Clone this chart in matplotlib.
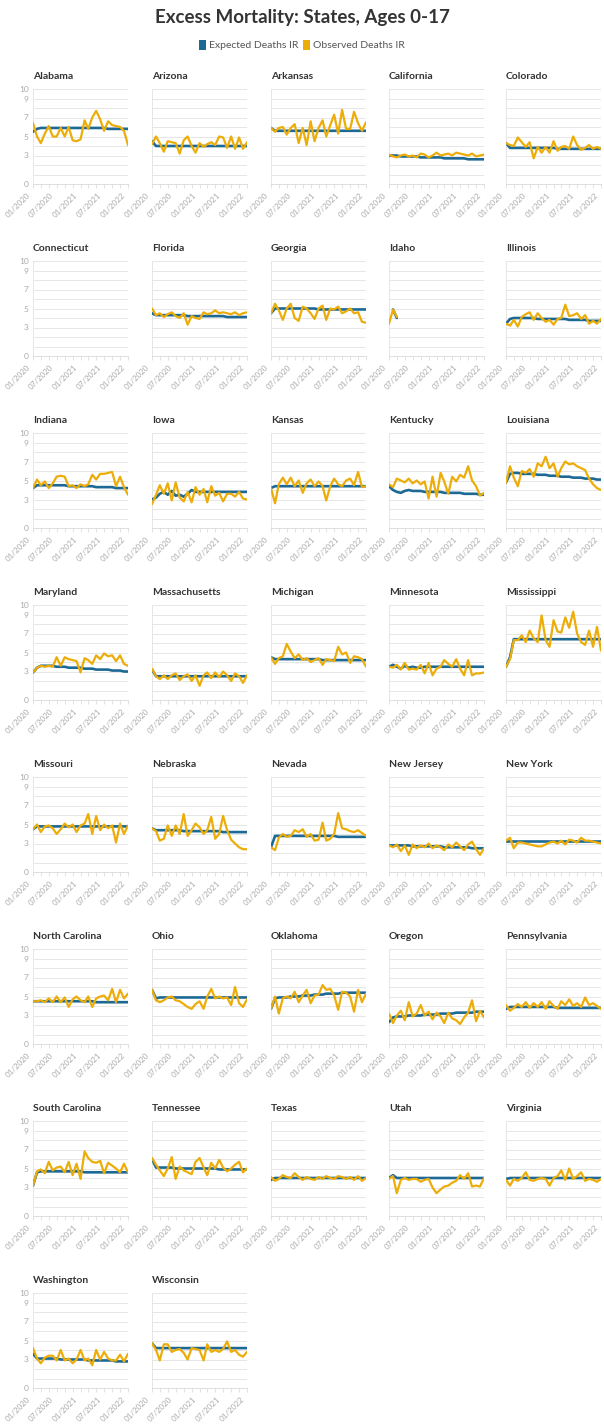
import matplotlib
matplotlib.use("Agg")
import matplotlib.pyplot as plt
import matplotlib.dates as mdates
import matplotlib.transforms as mtransforms
import numpy as np
from matplotlib.patches import Patch

plt.rcParams["font.family"] = ["Lato", "DejaVu Sans"]

BLUE = "#1D6996"
YELLOW = "#EDAD08"
GRID = "#e6e6e6"
TICK = "#aaaaaa"

# monthly points, 01/2020 .. 01/2022
months = np.arange("2020-01", "2022-02", dtype="datetime64[M]").astype("datetime64[D]")

NA = None

obs_alabama = [6.4, 5.0, 4.3, 5.3, 6.1, 5.0, 5.0, 5.9, 5.0, 6.0, 4.6, 4.5, 4.7, 6.7, 5.8,
               7.0, 7.7, 6.8, 5.6, 6.6, 6.2, 6.1, 6.0, 5.6, 4.1]
exp_alabama = [5.5, 5.8, 5.9, 5.9, 5.9, 5.9, 5.9, 5.9, 5.9, 5.9, 5.9, 5.9, 5.9, 5.9, 5.9,
               5.9, 5.9, 5.9, 5.9, 5.8, 5.8, 5.8, 5.8, 5.8, 5.8]
obs_arizona = [4.2, 5.0, 4.3, 3.4, 4.5, 4.4, 4.3, 3.2, 4.6, 5.0, 4.0, 3.3, 4.3, 3.9, 4.2,
               4.4, 4.1, 5.0, 4.9, 3.8, 5.0, 3.7, 4.9, 3.7, 4.4]
exp_arizona = [4.5, 4.0, 4.0, 4.0, 4.0, 4.0, 4.0, 4.0, 4.0, 4.0, 4.0, 4.0, 4.0, 4.0, 4.0,
               4.0, 4.0, 4.0, 4.0, 4.0, 4.0, 4.0, 4.0, 4.0, 4.0]
obs_arkansas = [5.9, 5.5, 5.9, 6.0, 5.2, 5.9, 6.3, 4.3, 5.9, 4.1, 6.6, 4.5, 5.9, 6.7, 5.0,
                6.2, 7.3, 5.3, 7.8, 5.8, 5.8, 7.6, 6.4, 5.6, 6.5]
exp_arkansas = [5.9, 5.6, 5.6, 5.6, 5.6, 5.6, 5.6, 5.6, 5.6, 5.6, 5.6, 5.6, 5.6, 5.6, 5.6,
                5.6, 5.6, 5.6, 5.6, 5.6, 5.6, 5.6, 5.6, 5.6, 5.6]
obs_california = [3.1, 2.9, 2.8, 3.0, 3.1, 2.9, 3.0, 2.8, 3.2, 3.1, 2.8, 3.0, 3.3, 3.0, 3.1,
                  3.2, 3.0, 3.3, 3.2, 3.1, 3.0, 3.2, 2.9, 3.0, 3.1]
exp_california = [3.0, 3.0, 3.0, 2.9, 2.9, 2.9, 2.9, 2.9, 2.8, 2.8, 2.8, 2.8, 2.8, 2.8, 2.7,
                  2.7, 2.7, 2.7, 2.7, 2.7, 2.6, 2.6, 2.6, 2.6, 2.6]
obs_colorado = [4.3, 4.1, 4.0, 4.9, 4.4, 3.9, 4.4, 2.7, 3.9, 3.3, 3.9, 3.3, 4.5, 3.5, 3.9,
                4.0, 3.7, 5.0, 4.1, 3.6, 3.8, 4.1, 3.7, 3.9, 3.7]
exp_colorado = [4.3, 3.8, 3.8, 3.8, 3.8, 3.8, 3.8, 3.8, 3.8, 3.8, 3.8, 3.8, 3.8, 3.7, 3.7,
                3.7, 3.7, 3.7, 3.7, 3.7, 3.7, 3.7, 3.7, 3.7, 3.7]
obs_connecticut = [NA] * 25
exp_connecticut = [NA] * 25
obs_florida = [5.0, 4.3, 4.5, 4.1, 4.4, 4.6, 4.2, 4.0, 4.5, 3.3, 4.2, 4.0, 3.9, 4.6, 4.4,
               4.5, 4.8, 4.5, 4.6, 4.5, 4.4, 4.6, 4.3, 4.5, 4.6]
exp_florida = [4.5, 4.3, 4.3, 4.3, 4.3, 4.3, 4.3, 4.3, 4.3, 4.2, 4.2, 4.2, 4.2, 4.2, 4.2,
               4.2, 4.2, 4.2, 4.2, 4.1, 4.1, 4.1, 4.1, 4.1, 4.1]
obs_georgia = [4.5, 5.5, 4.8, 3.8, 5.0, 5.5, 4.0, 3.7, 5.2, 5.0, 4.5, 3.9, 5.0, 5.3, 3.8,
               5.0, 4.9, 5.2, 4.5, 4.7, 5.0, 4.5, 4.6, 3.6, 3.5]
exp_georgia = [4.5, 5.0, 5.0, 5.0, 5.0, 5.0, 5.0, 5.0, 5.0, 5.0, 5.0, 5.0, 4.9, 4.9, 4.9,
               4.9, 4.9, 4.9, 4.9, 4.9, 4.9, 4.9, 4.9, 4.9, 4.9]
obs_idaho = [3.4, 4.9, 4.1, NA, NA, NA, NA, NA, NA, NA, NA, NA, NA, NA, NA,
             NA, NA, NA, NA, NA, NA, NA, NA, NA, NA]
exp_idaho = [NA, 4.9, 4.0, NA, NA, NA, NA, NA, NA, NA, NA, NA, NA, NA, NA,
             NA, NA, NA, NA, NA, NA, NA, NA, NA, NA]
obs_illinois = [3.4, 3.2, 3.8, 3.1, 4.1, 4.4, 4.6, 3.8, 4.5, 4.0, 3.6, 3.8, 3.3, 3.9, 4.0,
                5.4, 4.2, 4.3, 4.5, 3.9, 4.3, 3.4, 3.7, 3.4, 3.9]
exp_illinois = [3.4, 3.9, 4.0, 4.0, 4.0, 4.0, 4.0, 4.0, 3.9, 3.9, 3.9, 3.9, 3.9, 3.9, 3.9,
                3.9, 3.8, 3.8, 3.8, 3.8, 3.8, 3.7, 3.7, 3.7, 3.7]
obs_indiana = [4.2, 5.1, 4.5, 4.9, 4.2, 4.7, 5.4, 5.5, 5.4, 4.4, 4.5, 4.2, 4.6, 4.4, 4.6,
               5.6, 5.1, 5.7, 5.7, 5.8, 5.9, 4.4, 5.4, 4.3, 3.5]
exp_indiana = [4.2, 4.5, 4.5, 4.5, 4.5, 4.5, 4.5, 4.5, 4.5, 4.4, 4.4, 4.4, 4.4, 4.4, 4.4,
               4.4, 4.3, 4.3, 4.3, 4.3, 4.3, 4.2, 4.2, 4.2, 4.2]
obs_iowa = [2.5, 3.5, 4.5, 3.6, 4.7, 2.9, 4.8, 3.2, 2.8, 3.8, 2.7, 4.3, 3.5, 4.1, 2.7,
            4.4, 3.4, 3.7, 2.8, 3.6, 3.6, 3.3, 3.8, 3.1, 3.0]
exp_iowa = [3.0, 3.2, 3.6, 3.8, 3.5, 3.9, 3.4, 3.5, 3.3, 3.6, 4.0, 3.8, 3.8, 3.8, 3.8,
            3.8, 3.8, 3.8, 3.8, 3.8, 3.8, 3.8, 3.8, 3.8, 3.8]
obs_kansas = [4.2, 2.6, 4.6, 5.3, 4.6, 5.3, 4.4, 5.0, 3.7, 4.7, 5.1, 4.4, 4.9, 4.4, 2.9,
              4.4, 5.2, 4.6, 4.4, 5.0, 5.2, 4.5, 5.9, 4.3, 4.4]
exp_kansas = [4.2, 4.4, 4.4, 4.4, 4.4, 4.4, 4.4, 4.4, 4.4, 4.4, 4.4, 4.4, 4.4, 4.4, 4.4,
              4.4, 4.4, 4.4, 4.4, 4.4, 4.4, 4.4, 4.4, 4.4, 4.4]
obs_kentucky = [4.6, 4.3, 5.2, 5.0, 4.8, 5.2, 4.7, 5.0, 4.6, 4.9, 3.1, 5.4, 3.3, 5.8, 4.9,
                3.6, 5.4, 4.9, 5.6, 5.3, 6.5, 5.0, 4.4, 3.4, 3.7]
exp_kentucky = [4.4, 4.0, 3.8, 3.7, 3.9, 4.0, 3.9, 3.9, 3.9, 3.8, 3.8, 3.8, 3.8, 3.8, 3.7,
                3.7, 3.7, 3.7, 3.7, 3.6, 3.6, 3.6, 3.6, 3.5, 3.5]
obs_louisiana = [4.8, 6.5, 5.3, 4.4, 6.0, 5.8, 6.2, 5.4, 6.8, 6.5, 7.5, 6.3, 6.8, 5.4, 6.3,
                 7.0, 6.7, 6.8, 6.5, 6.3, 6.1, 5.2, 4.6, 4.2, 4.0]
exp_louisiana = [4.8, 5.7, 5.8, 5.8, 5.7, 5.7, 5.7, 5.7, 5.6, 5.6, 5.6, 5.5, 5.5, 5.5, 5.4,
                 5.4, 5.4, 5.3, 5.3, 5.3, 5.2, 5.2, 5.2, 5.1, 5.1]
obs_maryland = [2.9, 3.4, 3.6, 3.5, 3.6, 3.5, 4.5, 3.6, 4.5, 4.3, 4.2, 4.1, 2.9, 4.4, 4.2,
                3.8, 4.7, 4.3, 4.9, 4.6, 4.7, 4.1, 4.7, 3.8, 3.6]
exp_maryland = [2.9, 3.4, 3.6, 3.6, 3.6, 3.6, 3.5, 3.5, 3.5, 3.4, 3.4, 3.4, 3.4, 3.3, 3.3,
                3.3, 3.2, 3.2, 3.2, 3.2, 3.1, 3.1, 3.1, 3.0, 3.0]
obs_massachusetts = [3.3, 2.5, 2.2, 2.6, 2.2, 2.6, 2.8, 2.1, 2.5, 2.7, 2.0, 2.6, 1.5, 2.6, 2.9,
                     2.3, 2.9, 2.4, 3.0, 2.6, 2.0, 2.8, 2.5, 1.8, 2.6]
exp_massachusetts = [3.2, 2.5, 2.5, 2.5, 2.5, 2.5, 2.5, 2.5, 2.5, 2.5, 2.5, 2.5, 2.5, 2.5, 2.5,
                     2.5, 2.5, 2.5, 2.5, 2.5, 2.5, 2.5, 2.5, 2.5, 2.5]
obs_michigan = [4.5, 3.8, 4.4, 4.6, 5.9, 5.1, 4.4, 4.8, 4.2, 4.4, 4.0, 4.2, 4.4, 3.7, 4.3,
                4.2, 4.1, 5.6, 4.8, 5.0, 3.9, 4.6, 4.5, 4.3, 3.5]
exp_michigan = [4.5, 4.3, 4.3, 4.3, 4.3, 4.3, 4.3, 4.3, 4.3, 4.3, 4.3, 4.3, 4.3, 4.2, 4.2,
                4.2, 4.2, 4.2, 4.2, 4.2, 4.2, 4.2, 4.2, 4.2, 4.2]
obs_minnesota = [3.5, 3.4, 3.7, 3.2, 3.9, 3.2, 3.3, 3.2, 3.7, 2.8, 3.9, 2.6, 3.3, 3.5, 4.2,
                 3.8, 3.5, 4.3, 3.3, 2.6, 4.2, 2.6, 2.8, 2.8, 2.9]
exp_minnesota = [3.5, 3.7, 3.5, 3.3, 3.6, 3.4, 3.5, 3.4, 3.4, 3.5, 3.5, 3.5, 3.5, 3.5, 3.5,
                 3.5, 3.5, 3.5, 3.5, 3.5, 3.5, 3.5, 3.5, 3.5, 3.5]
obs_mississippi = [3.5, 4.3, 6.3, 6.3, 6.8, 6.1, 7.3, 6.5, 6.1, 8.9, 6.3, 5.6, 8.4, 7.2, 7.1,
                   8.7, 7.6, 9.3, 7.0, 6.1, 5.8, 7.3, 5.6, 7.7, 5.2]
exp_mississippi = [3.5, 4.5, 6.4, 6.4, 6.4, 6.4, 6.4, 6.4, 6.4, 6.4, 6.4, 6.4, 6.4, 6.4, 6.4,
                   6.4, 6.4, 6.4, 6.4, 6.4, 6.4, 6.4, 6.4, 6.4, 6.4]
obs_missouri = [4.5, 5.0, 4.2, 4.8, 4.9, 4.6, 4.0, 4.5, 5.1, 4.7, 5.0, 4.2, 4.9, 5.1, 6.1,
                4.0, 5.9, 4.4, 5.0, 4.6, 4.9, 3.1, 5.1, 4.0, 4.9]
exp_missouri = [4.5, 4.8, 4.8, 4.8, 4.8, 4.8, 4.8, 4.8, 4.8, 4.8, 4.8, 4.8, 4.8, 4.8, 4.8,
                4.8, 4.8, 4.8, 4.8, 4.8, 4.8, 4.8, 4.8, 4.8, 4.8]
obs_nebraska = [4.6, 4.3, 3.3, 3.5, 4.9, 3.8, 4.9, 4.0, 6.1, 3.8, 4.4, 5.1, 4.7, 4.0, 4.4,
                5.8, 3.5, 4.0, 5.9, 4.4, 3.4, 3.0, 2.6, 2.4, 2.4]
exp_nebraska = [4.6, 4.4, 4.4, 4.4, 4.4, 4.4, 4.4, 4.4, 4.3, 4.3, 4.3, 4.3, 4.3, 4.3, 4.3,
                4.3, 4.3, 4.3, 4.2, 4.2, 4.2, 4.2, 4.2, 4.2, 4.2]
obs_nevada = [2.6, 2.3, 3.6, 4.0, 3.7, 3.8, 4.4, 4.2, 4.5, 3.7, 4.0, 3.3, 3.4, 5.2, 3.3,
              3.5, 4.0, 6.2, 4.6, 4.5, 4.3, 4.2, 4.4, 4.1, 3.8]
exp_nevada = [2.6, 3.8, 3.8, 3.8, 3.8, 3.8, 3.8, 3.8, 3.8, 3.8, 3.8, 3.8, 3.8, 3.8, 3.8,
              3.8, 3.8, 3.7, 3.7, 3.7, 3.7, 3.7, 3.7, 3.7, 3.7]
obs_new_jersey = [2.8, 2.6, 2.9, 2.2, 2.8, 1.8, 2.9, 2.5, 2.8, 2.6, 3.0, 2.5, 2.8, 2.6, 2.3,
                  2.9, 2.6, 3.1, 2.7, 2.3, 2.9, 3.2, 2.4, 1.8, 2.5]
exp_new_jersey = [2.8, 2.8, 2.8, 2.8, 2.8, 2.8, 2.7, 2.7, 2.7, 2.7, 2.7, 2.7, 2.7, 2.7, 2.6,
                  2.6, 2.6, 2.6, 2.6, 2.6, 2.6, 2.5, 2.5, 2.5, 2.5]
obs_new_york = [3.3, 3.6, 2.5, 3.1, 3.1, 3.0, 2.9, 2.8, 2.7, 2.7, 2.9, 3.1, 3.2, 3.0, 3.3,
                2.9, 3.4, 3.3, 3.1, 3.6, 3.3, 3.3, 3.2, 3.1, 3.0]
exp_new_york = [3.3, 3.3, 3.3, 3.3, 3.3, 3.3, 3.3, 3.3, 3.3, 3.3, 3.3, 3.3, 3.3, 3.3, 3.3,
                3.3, 3.3, 3.3, 3.3, 3.3, 3.3, 3.3, 3.3, 3.3, 3.3]
obs_north_carolina = [4.5, 4.5, 4.6, 4.4, 4.8, 4.4, 5.0, 4.4, 4.9, 3.9, 4.7, 5.0, 4.6, 4.4, 5.0,
                      3.9, 4.8, 5.0, 5.1, 4.6, 5.8, 4.4, 5.7, 4.8, 5.3]
exp_north_carolina = [4.5, 4.5, 4.5, 4.5, 4.5, 4.5, 4.5, 4.5, 4.5, 4.5, 4.5, 4.5, 4.5, 4.5, 4.5,
                      4.5, 4.4, 4.4, 4.4, 4.4, 4.4, 4.4, 4.4, 4.4, 4.4]
obs_ohio = [5.7, 4.6, 4.4, 4.6, 4.9, 5.0, 4.6, 4.5, 4.2, 3.9, 3.7, 4.2, 4.5, 3.7, 5.0,
            5.8, 4.8, 5.0, 4.8, 4.9, 4.1, 6.0, 4.3, 3.9, 4.7]
exp_ohio = [5.7, 4.8, 4.9, 4.9, 4.9, 4.9, 4.9, 4.9, 4.9, 4.9, 4.9, 4.9, 4.9, 4.9, 4.9,
            4.9, 4.9, 4.9, 4.9, 4.9, 4.9, 4.9, 4.9, 4.9, 4.9]
obs_oklahoma = [3.7, 5.0, 3.2, 4.8, 5.0, 4.8, 5.5, 4.4, 5.1, 5.7, 4.3, 5.1, 5.2, 6.2, 5.7,
                5.8, 5.1, 3.6, 5.5, 5.4, 5.0, 3.4, 5.7, 4.4, 5.3]
exp_oklahoma = [3.7, 4.8, 4.9, 4.9, 4.9, 5.0, 5.0, 5.0, 5.1, 5.1, 5.1, 5.2, 5.2, 5.2, 5.3,
                5.3, 5.3, 5.3, 5.4, 5.4, 5.4, 5.4, 5.4, 5.4, 5.4]
obs_oregon = [3.2, 2.2, 3.0, 3.5, 2.5, 4.4, 2.9, 3.2, 4.1, 3.0, 3.4, 2.6, 3.3, 2.9, 2.2,
              3.3, 2.7, 2.5, 2.1, 2.8, 3.3, 4.6, 2.4, 3.5, 2.8]
exp_oregon = [2.3, 2.8, 2.9, 2.9, 2.9, 3.0, 3.0, 3.0, 3.0, 3.1, 3.1, 3.1, 3.1, 3.2, 3.2,
              3.2, 3.2, 3.3, 3.3, 3.3, 3.3, 3.3, 3.4, 3.4, 3.4]
obs_pennsylvania = [4.1, 3.5, 3.8, 4.2, 3.9, 4.4, 3.8, 4.3, 3.9, 4.4, 3.7, 4.5, 4.0, 3.7, 4.5,
                    4.1, 4.7, 4.0, 4.3, 3.9, 4.9, 4.1, 4.3, 4.0, 3.7]
exp_pennsylvania = [3.7, 3.9, 3.9, 3.9, 3.9, 3.9, 3.9, 3.9, 3.9, 3.9, 3.9, 3.9, 3.9, 3.8, 3.8,
                    3.8, 3.8, 3.8, 3.8, 3.8, 3.8, 3.8, 3.8, 3.8, 3.8]
obs_south_carolina = [3.2, 4.7, 4.9, 4.5, 5.7, 4.8, 5.1, 5.2, 4.6, 5.7, 4.3, 5.5, 3.9, 6.8, 6.1,
                      5.7, 5.6, 5.8, 4.5, 5.6, 5.3, 5.0, 4.6, 5.5, 4.6]
exp_south_carolina = [3.2, 4.6, 4.7, 4.7, 4.7, 4.7, 4.7, 4.7, 4.7, 4.7, 4.7, 4.7, 4.7, 4.6, 4.6,
                      4.6, 4.6, 4.6, 4.6, 4.6, 4.6, 4.6, 4.6, 4.6, 4.6]
obs_tennessee = [6.1, 5.4, 4.8, 4.2, 5.0, 6.2, 3.9, 5.2, 4.8, 4.6, 4.4, 5.7, 6.1, 5.1, 4.3,
                 5.6, 5.0, 5.9, 5.1, 4.7, 5.0, 5.4, 5.7, 4.6, 5.0]
exp_tennessee = [6.0, 5.1, 5.1, 5.1, 5.1, 5.1, 5.0, 5.0, 5.0, 5.0, 5.0, 5.0, 5.0, 5.0, 5.0,
                 5.0, 5.0, 4.9, 4.9, 4.9, 4.9, 4.9, 4.9, 4.9, 4.9]
obs_texas = [4.1, 3.7, 3.9, 4.3, 4.1, 4.0, 4.5, 4.1, 3.8, 4.1, 3.9, 3.8, 4.1, 3.9, 4.2,
             4.0, 3.9, 4.2, 4.1, 3.9, 4.1, 3.8, 4.2, 3.7, 4.0]
exp_texas = [3.8, 4.0, 4.0, 4.0, 4.0, 4.0, 4.0, 4.0, 4.0, 4.0, 4.0, 4.0, 4.0, 4.0, 4.0,
             4.0, 4.0, 4.0, 4.0, 4.0, 4.0, 4.0, 4.0, 4.0, 4.0]
obs_utah = [3.9, 4.2, 2.4, 3.8, 4.0, 3.8, 3.9, 3.9, 3.6, 3.8, 3.9, 3.0, 2.4, 2.8, 3.1,
            3.2, 3.5, 3.7, 4.3, 3.9, 4.5, 3.1, 3.2, 3.1, 4.0]
exp_utah = [4.0, 4.3, 4.0, 4.0, 4.0, 4.0, 4.0, 4.0, 4.0, 4.0, 4.0, 4.0, 4.0, 4.0, 4.0,
            4.0, 4.0, 4.0, 4.0, 4.0, 4.0, 4.0, 4.0, 4.0, 4.0]
obs_virginia = [3.8, 3.2, 3.9, 3.7, 4.0, 4.6, 3.8, 3.7, 3.9, 4.0, 3.9, 3.2, 4.0, 4.2, 4.8,
                3.8, 5.0, 3.9, 4.2, 4.6, 3.7, 3.9, 3.8, 3.6, 3.9]
exp_virginia = [3.9, 4.0, 4.0, 4.0, 4.0, 4.0, 4.0, 4.0, 4.0, 4.0, 4.0, 4.0, 4.0, 4.0, 4.0,
                4.0, 4.0, 4.0, 4.0, 4.0, 4.0, 4.0, 4.0, 4.0, 4.0]
obs_washington = [4.2, 3.1, 2.6, 3.2, 3.4, 3.4, 2.9, 4.0, 2.9, 3.1, 2.6, 3.0, 4.0, 2.9, 3.1,
                  2.4, 4.0, 3.0, 3.8, 3.1, 2.9, 2.9, 3.5, 2.8, 3.6]
exp_washington = [3.6, 3.1, 3.1, 3.1, 3.1, 3.1, 3.1, 3.0, 3.0, 3.0, 3.0, 3.0, 3.0, 3.0, 2.9,
                  2.9, 2.9, 2.9, 2.9, 2.9, 2.9, 2.8, 2.8, 2.8, 2.8]
obs_wisconsin = [4.7, 4.0, 2.9, 4.6, 4.6, 3.8, 4.0, 4.1, 3.7, 3.0, 4.2, 4.1, 4.0, 2.9, 4.6,
                 3.8, 4.0, 3.8, 4.1, 4.9, 3.8, 4.0, 3.5, 3.3, 3.8]
exp_wisconsin = [4.7, 4.2, 4.2, 4.2, 4.2, 4.2, 4.2, 4.2, 4.2, 4.2, 4.2, 4.2, 4.2, 4.2, 4.2,
                 4.2, 4.2, 4.2, 4.2, 4.2, 4.2, 4.2, 4.2, 4.2, 4.2]

panels = [
    ("Alabama", obs_alabama, exp_alabama),
    ("Arizona", obs_arizona, exp_arizona),
    ("Arkansas", obs_arkansas, exp_arkansas),
    ("California", obs_california, exp_california),
    ("Colorado", obs_colorado, exp_colorado),
    ("Connecticut", obs_connecticut, exp_connecticut),
    ("Florida", obs_florida, exp_florida),
    ("Georgia", obs_georgia, exp_georgia),
    ("Idaho", obs_idaho, exp_idaho),
    ("Illinois", obs_illinois, exp_illinois),
    ("Indiana", obs_indiana, exp_indiana),
    ("Iowa", obs_iowa, exp_iowa),
    ("Kansas", obs_kansas, exp_kansas),
    ("Kentucky", obs_kentucky, exp_kentucky),
    ("Louisiana", obs_louisiana, exp_louisiana),
    ("Maryland", obs_maryland, exp_maryland),
    ("Massachusetts", obs_massachusetts, exp_massachusetts),
    ("Michigan", obs_michigan, exp_michigan),
    ("Minnesota", obs_minnesota, exp_minnesota),
    ("Mississippi", obs_mississippi, exp_mississippi),
    ("Missouri", obs_missouri, exp_missouri),
    ("Nebraska", obs_nebraska, exp_nebraska),
    ("Nevada", obs_nevada, exp_nevada),
    ("New Jersey", obs_new_jersey, exp_new_jersey),
    ("New York", obs_new_york, exp_new_york),
    ("North Carolina", obs_north_carolina, exp_north_carolina),
    ("Ohio", obs_ohio, exp_ohio),
    ("Oklahoma", obs_oklahoma, exp_oklahoma),
    ("Oregon", obs_oregon, exp_oregon),
    ("Pennsylvania", obs_pennsylvania, exp_pennsylvania),
    ("South Carolina", obs_south_carolina, exp_south_carolina),
    ("Tennessee", obs_tennessee, exp_tennessee),
    ("Texas", obs_texas, exp_texas),
    ("Utah", obs_utah, exp_utah),
    ("Virginia", obs_virginia, exp_virginia),
    ("Washington", obs_washington, exp_washington),
    ("Wisconsin", obs_wisconsin, exp_wisconsin),
]

y_ticks = list(range(11))
y_labels = {0: "0", 3: "3", 5: "5", 7: "7", 9: "9", 10: "10"}

W, H = 604, 1427
fig = plt.figure(figsize=(W / 100, H / 100), dpi=100)
fig.patch.set_facecolor("white")

col_left = [33, 152, 271, 389, 506]
row_top0, row_pitch, size = 89, 172, 95

# nudge rotated date labels left so their ends sit under the tick
label_shift = mtransforms.ScaledTranslation(-4 / 100, 0, fig.dpi_scale_trans)

for i, (name, obs, exp) in enumerate(panels):
    r, c = divmod(i, 5)
    top = row_top0 + r * row_pitch
    ax = fig.add_axes([col_left[c] / W, 1 - (top + size) / H, size / W, size / H])

    ax.plot(months, np.array(exp, dtype=float), color=BLUE, lw=1.9,
            solid_joinstyle="round", solid_capstyle="round", zorder=3)
    ax.plot(months, np.array(obs, dtype=float), color=YELLOW, lw=1.6,
            solid_joinstyle="round", solid_capstyle="round", zorder=4)

    ax.set_xlim(months[0], months[-1])
    ax.set_ylim(0, 10)
    ax.set_yticks(y_ticks)
    if c == 0:
        ax.set_yticklabels([y_labels.get(t, "") for t in y_ticks])
    else:
        ax.set_yticklabels([])
    ax.tick_params(axis="y", length=0, pad=3, labelsize=6, labelcolor=TICK)
    ax.grid(True, axis="y", color=GRID, lw=0.7)
    ax.set_axisbelow(True)

    ax.xaxis.set_major_locator(mdates.MonthLocator(bymonth=[1, 7]))
    ax.xaxis.set_major_formatter(mdates.DateFormatter("%m/%Y"))
    ax.xaxis.set_minor_locator(mdates.MonthLocator(bymonth=[3, 5, 9, 11]))
    ax.tick_params(axis="x", which="both", length=3, width=0.6, color="#dddddd",
                   labelsize=5.8, labelcolor=TICK, pad=4)
    for lbl in ax.get_xticklabels():
        lbl.set_rotation(45)
        lbl.set_ha("right")
        lbl.set_va("center")
        lbl.set_rotation_mode("anchor")
        lbl.set_transform(lbl.get_transform() + label_shift)

    for s in ("top", "right"):
        ax.spines[s].set_visible(False)
    ax.spines["left"].set_color("#e6e6e6")
    ax.spines["left"].set_linewidth(0.7)
    ax.spines["bottom"].set_color("#dddddd")
    ax.spines["bottom"].set_linewidth(0.7)

    ax.text(0, 1 + 10 / size, name, transform=ax.transAxes, ha="left", va="baseline",
            fontsize=7.5, fontweight="bold", color="#333333")

fig.text(0.5, 1 - 18 / H, "Excess Mortality: States, Ages 0-17", ha="center", va="center",
         fontsize=13.5, fontweight="bold", color="#333333")

handles = [Patch(facecolor=BLUE, label="Expected Deaths IR"),
           Patch(facecolor=YELLOW, label="Observed Deaths IR")]
fig.legend(handles=handles, loc="center", bbox_to_anchor=(0.5, 1 - 45 / H), ncol=2,
           frameon=False, fontsize=7.5, labelcolor="#555555", handlelength=0.7,
           handleheight=1.1, handletextpad=0.3, columnspacing=0.4, borderaxespad=0)

fig.savefig("out.png", dpi=100, facecolor="white")
